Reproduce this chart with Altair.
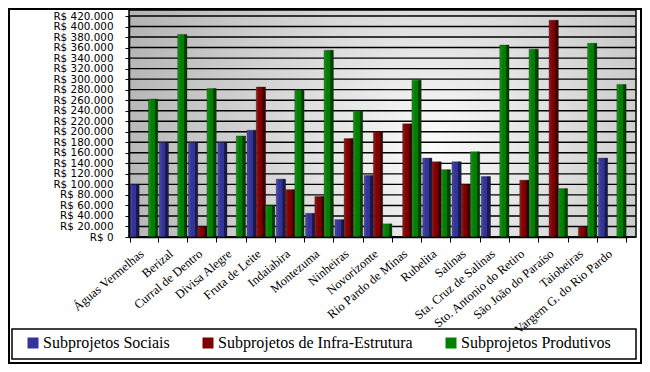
import altair as alt
import pandas as pd

categories = ["Águas Vermelhas", "Berizal", "Curral de Dentro", "Divisa Alegre",
              "Fruta de Leite", "Indaiabira", "Montezuma", "Ninheiras", "Novorizonte",
              "Rio Pardo de Minas", "Rubelita", "Salinas", "Sta. Cruz de Salinas",
              "Sto. Antonio do Retiro", "São João do Paraíso", "Taiobeiras",
              "Vargem G. do Rio Pardo"]
series = ["Subprojetos Sociais", "Subprojetos de Infra-Estrutura", "Subprojetos Produtivos"]
colors = ["#333399", "#800000", "#008000"]

sociais = [100000, 180000, 180000, 180000, 203000, 110000, 45000, 33000, 117000, 0,
           150000, 143000, 115000, 0, 0, 0, 150000]
infra = [0, 0, 20000, 0, 285000, 90000, 77000, 187000, 200000, 215000,
         143000, 100000, 0, 108000, 412000, 20000, 0]
produtivos = [262000, 385000, 282000, 192000, 60000, 280000, 355000, 240000, 25000, 298000,
              128000, 162000, 365000, 357000, 92000, 368000, 290000]
y_ticks = [0, 20000, 40000, 60000, 80000, 100000, 120000, 140000, 160000, 180000, 200000,
           220000, 240000, 260000, 280000, 300000, 320000, 340000, 360000, 380000, 400000, 420000]

rows = []
for i, c in enumerate(categories):
    for s, vals in zip(series, [sociais, infra, produtivos]):
        rows.append({"Município": c, "Série": s, "Valor": vals[i]})
df = pd.DataFrame(rows)
one = pd.DataFrame({"k": [0]})
grid_df = pd.DataFrame({"Valor": y_ticks})

W, H = 498, 221
PL, PT = 121, 8
SERIF = "Liberation Serif"

x_enc = alt.X("Município:N", sort=categories,
              scale=alt.Scale(paddingInner=0.05, paddingOuter=0.03),
              axis=alt.Axis(title=None, labelAngle=-40, labelFont=SERIF,
                            labelFontSize=12.5, labelColor="black", domainColor="black",
                            domainWidth=1.5, tickColor="black", tickBand="extent", tickSize=5,
                            labelPadding=5, labelOffset=-6, zindex=1))
xo_enc = alt.XOffset("Série:N", sort=series, scale=alt.Scale(domain=series, paddingInner=0))
y_axis = alt.Axis(values=y_ticks, grid=False, title=None, labelOverlap=False,
                  labelExpr="'R$ ' + replace(format(datum.value, ','), ',', '.')",
                  labelFont="DejaVu Sans", labelFontSize=10.4, labelColor="black",
                  tickSize=4, tickColor="black", domainColor="black", domainWidth=1.5,
                  labelPadding=12, zindex=1)
y_enc = alt.Y("Valor:Q", scale=alt.Scale(domain=[0, 420000], nice=False), axis=y_axis)

bg = alt.Chart(one).mark_rect(
    fill=alt.Gradient(gradient="radial", x1=0.6, y1=0.55, r1=0, x2=0.6, y2=0.55, r2=0.75,
                      stops=[alt.GradientStop(color="#fbfbfb", offset=0),
                             alt.GradientStop(color="#a8a8a8", offset=1)]),
    stroke="black", strokeWidth=1.5
).encode(x=alt.value(0), x2=alt.value(W + 9), y=alt.value(-6), y2=alt.value(H))

grid = alt.Chart(grid_df).mark_rule(color="black", strokeWidth=1.4).encode(
    y=y_enc, x=alt.value(0), x2=alt.value(W + 9))

bars = alt.Chart(df).mark_bar(stroke="#111111", strokeWidth=0.5, strokeOpacity=0.6).encode(
    x=x_enc, xOffset=xo_enc, y=y_enc,
    color=alt.Color("Série:N", sort=series, scale=alt.Scale(domain=series, range=colors),
                    legend=alt.Legend(title=None, orient="none", legendX=25 - 8 - PL,
                                      legendY=319,
                                      direction="horizontal", columns=3, columnPadding=30,
                                      symbolType="square", symbolSize=121, symbolStrokeWidth=0,
                                      labelFont=SERIF, labelFontSize=16, labelLimit=400,
                                      labelColor="black", labelOffset=2, padding=0))
)

shade = alt.Chart(df).mark_bar(
    fill=alt.Gradient(gradient="linear", x1=0, y1=0, x2=1, y2=0,
                      stops=[alt.GradientStop(color="rgba(255,255,255,0.12)", offset=0),
                             alt.GradientStop(color="rgba(255,255,255,0.0)", offset=0.35),
                             alt.GradientStop(color="rgba(0,0,0,0)", offset=0.66),
                             alt.GradientStop(color="rgba(0,0,0,0.5)", offset=0.68),
                             alt.GradientStop(color="rgba(0,0,0,0.5)", offset=1)])
).encode(x=x_enc, xOffset=xo_enc, y=y_enc)

legend_box = alt.Chart(one).mark_rect(fillOpacity=0, stroke="black", strokeWidth=1.5).encode(
    x=alt.value(12 - 8 - PL), x2=alt.value(636 - 8 - PL), y=alt.value(313), y2=alt.value(343))

frame = alt.Chart(one).mark_rect(fillOpacity=0, stroke="black", strokeWidth=2).encode(
    x=alt.value(9 - 8 - PL), x2=alt.value(641 - 8 - PL), y=alt.value(-7), y2=alt.value(347))

chart = alt.layer(bg, grid, bars, shade, legend_box, frame).properties(
    width=W, height=H,
    autosize=alt.AutoSizeParams(type="none"),
    padding={"left": PL, "top": PT, "right": 634 - PL - W, "bottom": 356 - PT - H},
    background="white"
).configure_view(stroke=None).configure_legend(labelFont=SERIF, labelFontSize=16, labelLimit=400)

chart.save("out.html", embed_options={"renderer": "svg", "actions": False})
